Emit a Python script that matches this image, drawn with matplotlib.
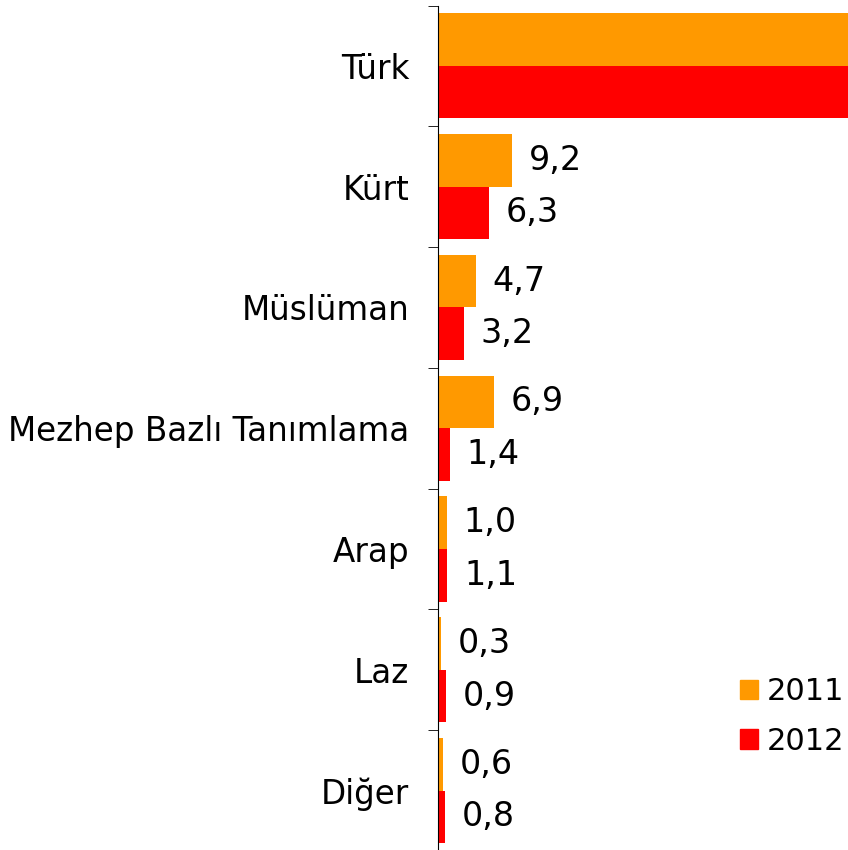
import numpy as np
import matplotlib.pyplot as plt
from matplotlib.patches import Patch

# data
categories = ['Türk', 'Kürt', 'Müslüman', 'Mezhep Bazlı Tanımlama', 'Arap', 'Laz', 'Diğer']
vals_2011 = [78.0, 9.2, 4.7, 6.9, 1.0, 0.3, 0.6]
vals_2012 = [86.3, 6.3, 3.2, 1.4, 1.1, 0.9, 0.8]
years = ['2011', '2012']
colors = ['#FF9900', '#FF0000']

fig = plt.figure(figsize=(8.48, 8.5), dpi=100)
ax = fig.add_axes([438.5 / 848, -1.0 / 850, 1 - 438.5 / 848, 845.5 / 850])

y = np.arange(len(categories))
h = 0.435
ax.barh(y - h / 2, vals_2011, height=h, color=colors[0])
ax.barh(y + h / 2, vals_2012, height=h, color=colors[1])

# value labels with comma decimal
for i in range(len(categories)):
    for v, off in ((vals_2011[i], -h / 2), (vals_2012[i], h / 2)):
        ax.annotate(f'{v:.1f}'.replace('.', ','), (v, i + off), xytext=(12, 0),
                    textcoords='offset points', va='center', ha='left',
                    fontsize=24, annotation_clip=True, clip_on=True)

ax.set_xlim(0, 51.1)
ax.set_ylim(len(categories) - 0.5, -0.5)

ax.set_yticks(y)
ax.set_yticklabels(categories, fontsize=23.5)
ax.set_yticks(np.arange(len(categories) + 1) - 0.5, minor=True)
ax.tick_params(axis='y', which='major', length=0, pad=21)
ax.tick_params(axis='y', which='minor', length=7.5, direction='out')
ax.set_xticks([])
for s in ['top', 'right', 'bottom']:
    ax.spines[s].set_visible(False)

handles = [Patch(color=c, label=l) for c, l in zip(colors, years)]
fig.legend(handles=handles, loc='upper left', bbox_to_anchor=(740 / 848, 1 - 677 / 850),
           frameon=False, fontsize=22, handlelength=0.6, handleheight=0.6,
           handletextpad=0.28, labelspacing=0.68, borderpad=0, borderaxespad=0)

fig.savefig('out.png', dpi=100)
